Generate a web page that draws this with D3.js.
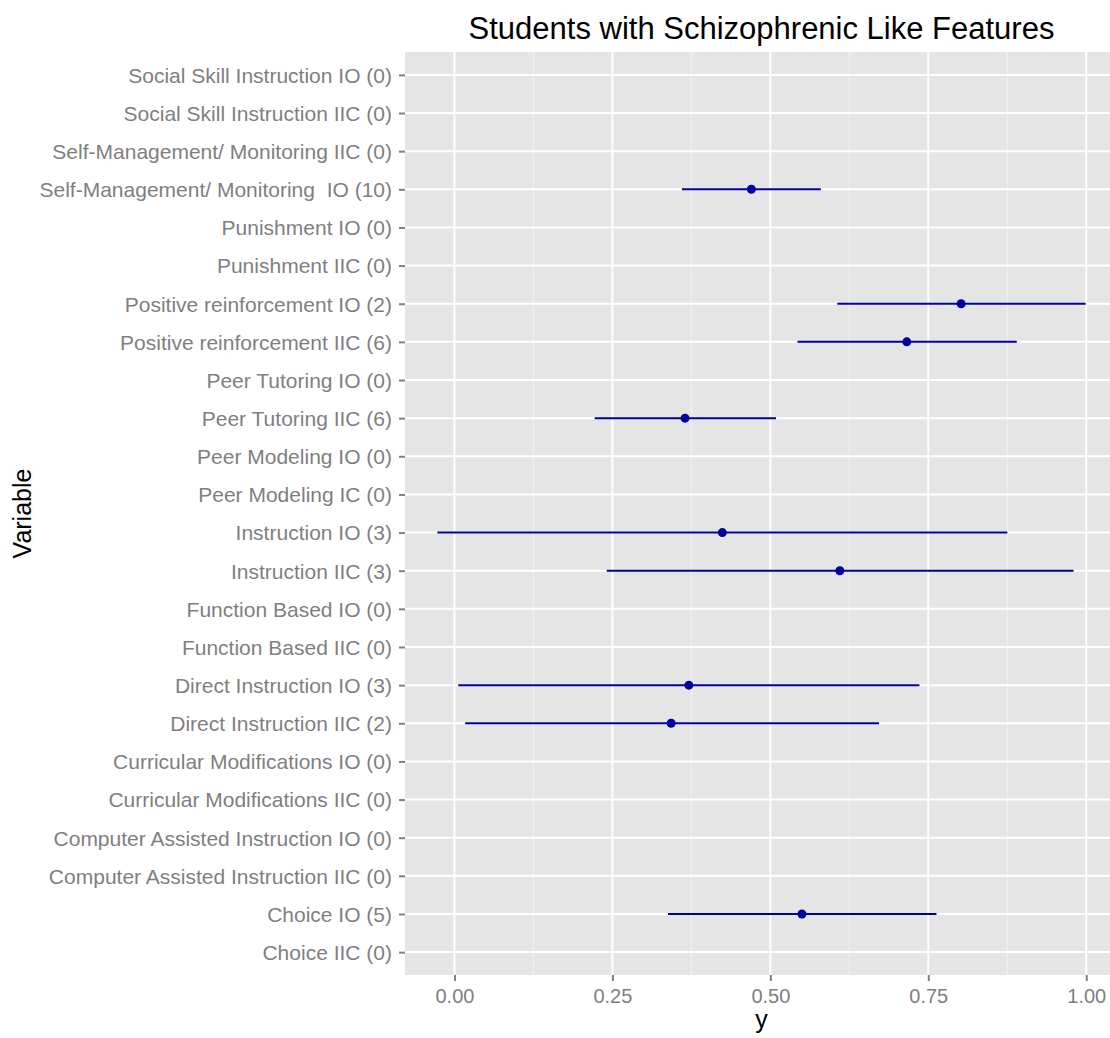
<!DOCTYPE html>
<html>
<head>
<meta charset="utf-8">
<script src="https://cdn.jsdelivr.net/npm/d3@7"></script>
<style>
  body { margin: 0; background: #fff; }
  svg text { font-family: "Liberation Sans", Arial, Helvetica, sans-serif; }
</style>
</head>
<body>
<svg id="chart" width="1110" height="1038"></svg>
<script>
//=================== DATA ====================================
// categories listed top to bottom as they appear on the chart
var categories = [
  "Social Skill Instruction IO (0)",
  "Social Skill Instruction IIC (0)",
  "Self-Management/ Monitoring IIC (0)",
  "Self-Management/ Monitoring  IO (10)",
  "Punishment IO (0)",
  "Punishment IIC (0)",
  "Positive reinforcement IO (2)",
  "Positive reinforcement IIC (6)",
  "Peer Tutoring IO (0)",
  "Peer Tutoring IIC (6)",
  "Peer Modeling IO (0)",
  "Peer Modeling IC (0)",
  "Instruction IO (3)",
  "Instruction IIC (3)",
  "Function Based IO (0)",
  "Function Based IIC (0)",
  "Direct Instruction IO (3)",
  "Direct Instruction IIC (2)",
  "Curricular Modifications IO (0)",
  "Curricular Modifications IIC (0)",
  "Computer Assisted Instruction IO (0)",
  "Computer Assisted Instruction IIC (0)",
  "Choice IO (5)",
  "Choice IIC (0)"
];

// point estimates (null = no studies)
var estimates = [null, null, null, 0.470, null, null, 0.802, 0.716, null, 0.365, null, null,
                 0.424, 0.610, null, null, 0.371, 0.343, null, null, null, null, 0.550, null];
var lowerCI   = [null, null, null, 0.360, null, null, 0.606, 0.543, null, 0.222, null, null,
                 -0.027, 0.241, null, null, 0.006, 0.017, null, null, null, null, 0.338, null];
var upperCI   = [null, null, null, 0.580, null, null, 0.999, 0.890, null, 0.509, null, null,
                 0.875, 0.980, null, null, 0.736, 0.672, null, null, null, null, 0.763, null];

var xTicks = [0, 0.25, 0.5, 0.75, 1.0];
var xMinorTicks = [-0.125, 0.125, 0.375, 0.625, 0.875];

//=================== LAYOUT ====================================
var panelLeft = 405, panelRight = 1118, panelTop = 52, panelBottom = 975;
var barColour = "#00009C";

var svg = d3.select("#chart");

var rows = categories.map(function (c, i) {
  return { label: c, est: estimates[i], lo: lowerCI[i], hi: upperCI[i] };
});
var withData = rows.filter(function (d) { return d.est !== null; });

// continuous axis with ggplot's 5% expansion
var dMin = d3.min(withData, function (d) { return d.lo; });
var dMax = d3.max(withData, function (d) { return d.hi; });
var pad = (dMax - dMin) * 0.05;

var xScale = d3.scaleLinear()
  .domain([dMin - pad, dMax + pad])
  .range([panelLeft, panelRight]);

var yScale = d3.scalePoint()
  .domain(categories)
  .range([panelTop, panelBottom])
  .padding(0.6);

//=================== PANEL ====================================
svg.append("rect")
  .attr("x", panelLeft).attr("y", panelTop)
  .attr("width", panelRight - panelLeft).attr("height", panelBottom - panelTop)
  .attr("fill", "#E5E5E5");

var grid = svg.append("g");

grid.selectAll("line.minor")
  .data(xMinorTicks.filter(function (t) { return xScale(t) > panelLeft; }))
  .enter().append("line")
  .attr("class", "minor")
  .attr("x1", function (d) { return xScale(d); })
  .attr("x2", function (d) { return xScale(d); })
  .attr("y1", panelTop).attr("y2", panelBottom)
  .attr("stroke", "#F2F2F2").attr("stroke-width", 1);

grid.selectAll("line.majorx")
  .data(xTicks)
  .enter().append("line")
  .attr("class", "majorx")
  .attr("x1", function (d) { return xScale(d); })
  .attr("x2", function (d) { return xScale(d); })
  .attr("y1", panelTop).attr("y2", panelBottom)
  .attr("stroke", "#fff").attr("stroke-width", 2);

grid.selectAll("line.majory")
  .data(categories)
  .enter().append("line")
  .attr("class", "majory")
  .attr("x1", panelLeft).attr("x2", panelRight)
  .attr("y1", function (d) { return yScale(d); })
  .attr("y2", function (d) { return yScale(d); })
  .attr("stroke", "#fff").attr("stroke-width", 2);

//=================== AXES ====================================
var yAxis = svg.append("g")
  .attr("transform", "translate(" + panelLeft + ",0)")
  .call(d3.axisLeft(yScale).tickSize(6).tickPadding(7));

var xAxis = svg.append("g")
  .attr("transform", "translate(0," + panelBottom + ")")
  .call(d3.axisBottom(xScale).tickValues(xTicks).tickFormat(d3.format(".2f")).tickSize(6).tickPadding(4));

[yAxis, xAxis].forEach(function (ax) {
  ax.select(".domain").remove();
  ax.selectAll(".tick line").attr("stroke", "#7F7F7F").attr("stroke-width", 2);
  ax.selectAll(".tick text")
    .attr("fill", "#7F7F7F")
    .style("font-size", "21px")
    .style("white-space", "pre");
});
xAxis.selectAll(".tick text").style("font-size", "20px").attr("dy", "0.9em");
yAxis.selectAll(".tick text").attr("dy", "0.35em");

//=================== ERROR BARS ====================================
var marks = svg.append("g");

marks.selectAll("line.ci")
  .data(withData)
  .enter().append("line")
  .attr("class", "ci")
  .attr("x1", function (d) { return xScale(d.lo); })
  .attr("x2", function (d) { return xScale(d.hi); })
  .attr("y1", function (d) { return yScale(d.label); })
  .attr("y2", function (d) { return yScale(d.label); })
  .attr("stroke", barColour).attr("stroke-width", 2);

marks.selectAll("circle")
  .data(withData)
  .enter().append("circle")
  .attr("cx", function (d) { return xScale(d.est); })
  .attr("cy", function (d) { return yScale(d.label); })
  .attr("r", 4.5)
  .attr("fill", barColour);

//=================== TITLES ====================================
svg.append("text")
  .attr("x", (panelLeft + panelRight) / 2)
  .attr("y", 39)
  .attr("text-anchor", "middle")
  .style("font-size", "31px")
  .attr("fill", "#000")
  .text("Students with Schizophrenic Like Features");

svg.append("text")
  .attr("x", (panelLeft + panelRight) / 2)
  .attr("y", 1028)
  .attr("text-anchor", "middle")
  .style("font-size", "25px")
  .attr("fill", "#000")
  .text("y");

svg.append("text")
  .attr("transform", "translate(31," + ((panelTop + panelBottom) / 2) + ")rotate(-90)")
  .attr("text-anchor", "middle")
  .style("font-size", "25px")
  .attr("fill", "#000")
  .text("Variable");
</script>
</body>
</html>
